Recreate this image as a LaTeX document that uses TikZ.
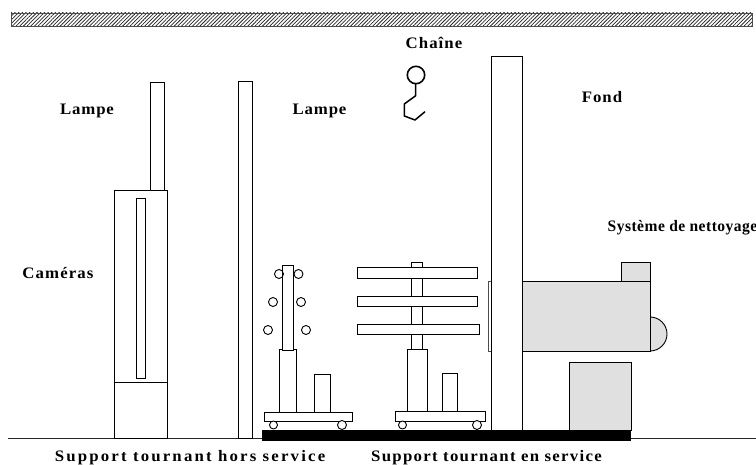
\documentclass[tikz,border=0pt]{standalone}
\usepackage{fontspec}
\setmainfont{Liberation Serif}
\usetikzlibrary{patterns.meta}
\tikzset{
  x=1pt,y=-1pt,
  part/.style={draw=black,line width=0.9pt,fill=white},
  grayed/.style={draw=black,line width=0.9pt,fill=black!12},
  lbl/.style={inner sep=0pt,anchor=center,text=black}
}
\newcommand{\lblfont}[2][1.05]{\fontsize{16}{18}\selectfont\addfontfeatures{LetterSpace=#2,FakeStretch=#1}\bfseries}
\begin{document}
\begin{tikzpicture}
\useasboundingbox (0,0) rectangle (756,465);
% ceiling
\path[draw=black!70,line width=0.6pt,pattern={Lines[angle=45,distance=2.6pt,line width=0.75pt]},pattern color=black!85] (11,13) rectangle (752,26.5);
% ground
\draw[line width=0.9pt,black!85] (8,438) -- (756,438);
% lamps and cameras
\draw[part] (150,82) rectangle (164,190);
\draw[part] (238,81) rectangle (252,438);
\draw[part] (114.5,190) rectangle (167.5,438);
\draw[part] (114.5,382) -- (167.5,382);
\draw[part] (136.5,198) rectangle (145.5,378);
% black floor
\fill[black] (262,430) rectangle (631,441);
% left trolley
\draw[part] (279,349) rectangle (296.5,412);
\draw[part] (282.5,265) rectangle (293,350);
\draw[part] (314.5,374) rectangle (330,412);
\draw[part] (264,412) rectangle (352,421);
\draw[part] (273.5,425) circle[radius=4];
\draw[part] (342,425) circle[radius=4.5];
\foreach \cx/\cy in {279/274,298.5/274,273/302,301/302,268/330,306/330}
  \draw[line width=0.9pt] (\cx,\cy) circle[radius=4.5];
% right trolley
\draw[part] (411,262) rectangle (422.5,349);
\draw[part] (407.5,349) rectangle (427,411);
\draw[part] (442,373) rectangle (457.5,411);
\draw[part] (357.5,267) rectangle (477.5,278);
\draw[part] (357,296.5) rectangle (477.5,306.5);
\draw[part] (357,324.5) rectangle (479,334.5);
\draw[part] (395.5,411) rectangle (485,421);
\draw[part] (402.5,425) circle[radius=4];
\draw[part] (477,425) circle[radius=4.5];
% back wall
\draw[part,draw=black!70] (488.5,281) rectangle (491,351);
\draw[part] (491,56) rectangle (522,430);
% cleaning system
\draw[grayed] (650,317) arc[start angle=-90,end angle=90,radius=17];
\draw[grayed] (522,281) rectangle (650,351);
\draw[grayed] (621,262) rectangle (650,281);
\draw[grayed] (569.5,362.5) rectangle (631,430);
% hook
\draw[line width=1.6pt] (416,75) circle[radius=8.7];
\draw[line width=1.5pt,line join=round] (415.7,84) -- (415.7,95.7) -- (404.3,104) -- (404.3,116) -- (415,120) -- (425,111.7);
% labels
\node[lbl,font={\lblfont{5.5}}] (lampeA) at (87,110.5) {Lampe};
\node[lbl,font={\lblfont{5.5}}] (lampeB) at (319.5,110.5) {Lampe};
\node[lbl,font={\lblfont{6.5}}] (chaine) at (434,42.5) {Chaîne};
\node[lbl,font={\lblfont{6}}] (fond) at (602,97.5) {Fond};
\node[lbl,font={\lblfont[0.97]{3}}] (nett) at (682.5,227.5) {Système de nettoyage};
\node[lbl,font={\lblfont{7}}] (cam) at (58,273.5) {Caméras};
\node[lbl,font={\lblfont{13.6}}] (hors) at (190,457.5) {Support tournant hors service};
\node[lbl,font={\lblfont{8}}] (enserv) at (486.5,457.5) {Support tournant en service};
\end{tikzpicture}
\end{document}
